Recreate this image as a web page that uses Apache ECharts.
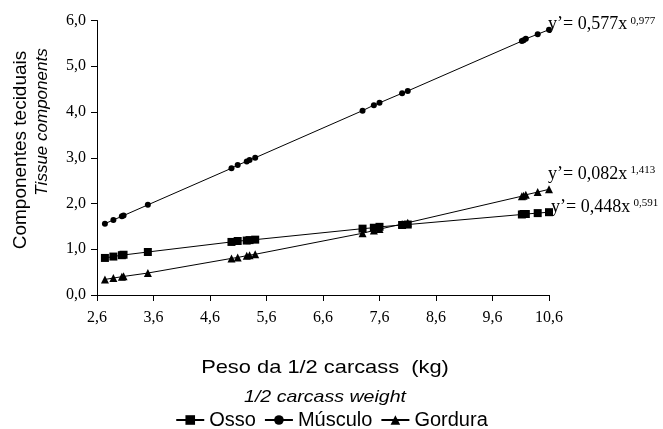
<!DOCTYPE html>
<html>
<head>
<meta charset="utf-8">
<script src="https://cdn.jsdelivr.net/npm/echarts@6/dist/echarts.min.js"></script>
<style>html,body{margin:0;padding:0;background:#fff}#c{width:663px;height:429px}</style>
</head>
<body>
<div id="c"></div>
<script>
// Carcass weight (x) for each animal
const xValues = [2.74, 2.89, 3.04, 3.07, 3.50, 4.98, 5.09, 5.25, 5.30, 5.40, 7.30, 7.50, 7.60, 8.00, 8.10, 10.12, 10.15, 10.19, 10.40, 10.60];
// Tissue components
const osso    = [0.81, 0.84, 0.87, 0.88, 0.94, 1.16, 1.18, 1.19, 1.20, 1.21, 1.45, 1.47, 1.49, 1.53, 1.54, 1.76, 1.77, 1.77, 1.79, 1.81];
const musculo = [1.56, 1.64, 1.72, 1.74, 1.97, 2.77, 2.84, 2.92, 2.95, 3.00, 4.03, 4.15, 4.20, 4.41, 4.46, 5.55, 5.57, 5.60, 5.70, 5.80];
const gordura = [0.34, 0.37, 0.40, 0.41, 0.48, 0.80, 0.82, 0.86, 0.87, 0.89, 1.35, 1.41, 1.44, 1.55, 1.58, 2.16, 2.17, 2.19, 2.25, 2.31];
const seriesNames = ['Osso', 'Músculo', 'Gordura'];
const eqMain = ['y’= 0,448x', 'y’= 0,577x', 'y’= 0,082x'];
const eqExp  = ['0,591', '0,977', '1,413'];
const xTicks = [2.6, 3.6, 4.6, 5.6, 6.6, 7.6, 8.6, 9.6, 10.6];
const yTicks = [0, 1, 2, 3, 4, 5, 6];

const serif = '"Liberation Serif", "DejaVu Serif", serif';
const sans = '"Liberation Sans", Arial, sans-serif';

const eqStyle = [
  {offset: [-7, -5]},
  {offset: [-9, -5]},
  {offset: [-10, -15]}
];

function buildData(vals, k) {
  return xValues.map((x, i) => {
    const item = {value: [x, vals[i]]};
    if (i === xValues.length - 1) {
      item.label = {
        show: true,
        position: 'right',
        offset: eqStyle[k].offset,
        formatter: '{a|' + eqMain[k] + '} {b|' + eqExp[k] + '}',
        rich: {
          a: {fontFamily: serif, fontSize: 18, color: '#000', lineHeight: 19},
          b: {fontFamily: serif, fontSize: 11, color: '#000', verticalAlign: 'top', lineHeight: 19}
        }
      };
    }
    return item;
  });
}

const symbols = ['rect', 'circle', 'triangle'];
const sizes = [8, 6, 8];
const allVals = [osso, musculo, gordura];

const chart = echarts.init(document.getElementById('c'), null, {renderer: 'canvas'});
chart.setOption({
  animation: false,
  backgroundColor: '#fff',
  grid: {left: 97, right: 114, top: 20.5, bottom: 134, containLabel: false},
  xAxis: {
    type: 'value', min: 2.6, max: 10.6,
    axisLine: {show: true, lineStyle: {color: '#000', width: 1}},
    axisTick: {show: true, length: 6, lineStyle: {color: '#000'}, customValues: xTicks},
    axisLabel: {
      customValues: xTicks, margin: 15,
      fontFamily: serif, fontSize: 16, color: '#000',
      formatter: v => v.toFixed(1).replace('.', ',')
    },
    splitLine: {show: false}
  },
  yAxis: {
    type: 'value', min: 0, max: 6, interval: 1,
    axisLine: {show: true, lineStyle: {color: '#000', width: 1}},
    axisTick: {show: true, length: 6, lineStyle: {color: '#000'}},
    axisLabel: {
      margin: 11, fontFamily: serif, fontSize: 16, color: '#000',
      formatter: v => yTicks.includes(v) ? v.toFixed(1).replace('.', ',') : ''
    },
    splitLine: {show: false}
  },
  legend: {
    top: 405, left: 'center',
    itemWidth: 28, itemHeight: 12, itemGap: 8,
    textStyle: {fontFamily: sans, fontSize: 20, color: '#000'},
    data: seriesNames
  },
  series: seriesNames.map((name, k) => ({
    name: name,
    type: 'line',
    data: buildData(allVals[k], k),
    symbol: symbols[k],
    symbolSize: sizes[k],
    showAllSymbol: true,
    lineStyle: {color: '#000', width: 1},
    itemStyle: {color: '#000'},
    emphasis: {disabled: true}
  })),
  graphic: [
    {type: 'text', x: 21, y: 150, rotation: Math.PI / 2,
     style: {text: 'Componentes teciduais', fontFamily: sans, fontSize: 19, fill: '#000', align: 'center', verticalAlign: 'middle'}},
    {type: 'text', x: 42, y: 122, rotation: Math.PI / 2,
     style: {text: 'Tissue components', fontFamily: sans, fontStyle: 'italic', fontSize: 17, fill: '#000', align: 'center', verticalAlign: 'middle'}},
    {type: 'text', x: 325, y: 368, scaleX: 1.15,
     style: {text: 'Peso da 1/2 carcass  (kg)', fontFamily: sans, fontSize: 19, fill: '#000', align: 'center', verticalAlign: 'middle'}},
    {type: 'text', x: 325, y: 397, scaleX: 1.15,
     style: {text: '1/2 carcass weight', fontFamily: sans, fontStyle: 'italic', fontSize: 17, fill: '#000', align: 'center', verticalAlign: 'middle'}}
  ]
});
</script>
</body>
</html>
